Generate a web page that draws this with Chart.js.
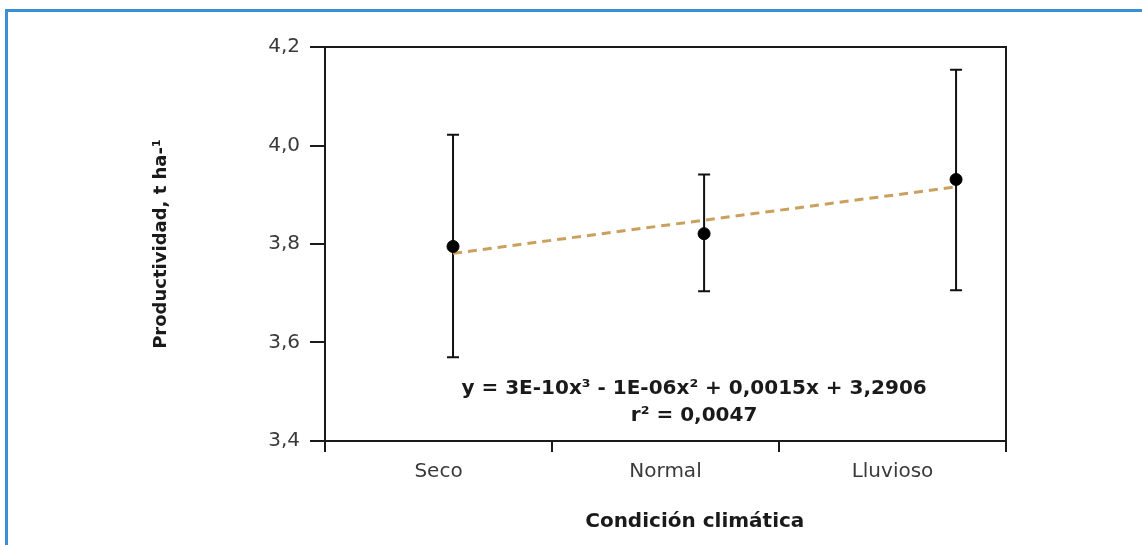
<!DOCTYPE html>
<html>
<head>
<meta charset="utf-8">
<script src="https://cdn.jsdelivr.net/npm/chart.js@4/dist/chart.umd.min.js"></script>
<style>
  html, body { margin: 0; padding: 0; background: #fff; }
  #wrap { position: relative; width: 1142px; height: 545px; overflow: hidden; }
  #frame { position: absolute; left: 5px; top: 9px; width: 1200px; height: 600px;
           border-top: 3px solid #3b8fd4; border-left: 3px solid #3b8fd4; box-sizing: border-box; }
  canvas { position: absolute; left: 0; top: 0; }
</style>
</head>
<body>
<div id="wrap">
  <div id="frame"></div>
  <canvas id="c" width="1142" height="545"></canvas>
</div>
<script>
// ---- data ----
const categories = ['Seco', 'Normal', 'Lluvioso'];
const pointX = [0.564, 1.670, 2.780];      // position along the (hidden) linear x axis
const meanY = [3.795, 3.821, 3.931];
const upperY = [4.022, 3.941, 4.154];
const lowerY = [3.570, 3.704, 3.706];
const trendX = [0.564, 2.780];
const trendY = [3.781, 3.916];
const yTicks = [3.4, 3.6, 3.8, 4.0, 4.2];
const equationLines = ['y = 3E-10x\u00B3 - 1E-06x\u00B2 + 0,0015x + 3,2906', 'r\u00B2 = 0,0047'];
const xTitle = 'Condici\u00F3n clim\u00E1tica';
const yTitle = 'Productividad, t ha-\u00B9';

const FONT = "'DejaVu Sans', Verdana, sans-serif";

const pointData = pointX.map((x, i) => ({ x, y: meanY[i], hi: upperY[i], lo: lowerY[i] }));
const trendData = trendX.map((x, i) => ({ x, y: trendY[i] }));

const extras = {
  id: 'extras',
  beforeDatasetsDraw(chart) {
    const { ctx, chartArea: a, scales } = chart;
    const xs = scales.x, ys = scales.y;
    ctx.save();
    // plot frame (top and right edges)
    ctx.strokeStyle = '#1a1a1a';
    ctx.lineWidth = 2;
    ctx.beginPath();
    ctx.moveTo(a.left, a.top);
    ctx.lineTo(a.right, a.top);
    ctx.lineTo(a.right, a.bottom);
    ctx.stroke();
    // error bars
    ctx.lineWidth = 2;
    ctx.strokeStyle = '#111';
    pointData.forEach(p => {
      const px = xs.getPixelForValue(p.x);
      const yt = ys.getPixelForValue(p.hi);
      const yb = ys.getPixelForValue(p.lo);
      ctx.beginPath();
      ctx.moveTo(px, yt); ctx.lineTo(px, yb);
      ctx.moveTo(px - 6, yt); ctx.lineTo(px + 6, yt);
      ctx.moveTo(px - 6, yb); ctx.lineTo(px + 6, yb);
      ctx.stroke();
    });
    ctx.restore();
  },
  afterDraw(chart) {
    const { ctx, chartArea: a } = chart;
    ctx.save();
    ctx.fillStyle = '#1a1a1a';
    ctx.textAlign = 'center';
    ctx.textBaseline = 'middle';
    ctx.font = 'bold 20px ' + FONT;
    const cx = a.left + (a.right - a.left) * 0.542;
    ctx.fillText(equationLines[0], cx, a.bottom - 52);
    ctx.fillText(equationLines[1], cx, a.bottom - 25);
    ctx.fillText(xTitle, a.left + (a.right - a.left) * 0.543, 522);
    ctx.restore();
  }
};

new Chart(document.getElementById('c'), {
  type: 'scatter',
  data: {
    datasets: [
      {
        type: 'line',
        data: trendData,
        borderColor: '#c9a05e',
        borderWidth: 3,
        borderDash: [9, 6],
        pointRadius: 0,
        fill: false,
        xAxisID: 'x',
        order: 2
      },
      {
        data: pointData,
        backgroundColor: '#000',
        borderColor: '#000',
        pointRadius: 6,
        pointHoverRadius: 6,
        xAxisID: 'x',
        order: 1
      }
    ]
  },
  options: {
    responsive: false,
    animation: false,
    events: [],
    layout: { padding: { left: 0, right: 136, top: 47, bottom: 0 } },
    plugins: { legend: { display: false }, tooltip: { enabled: false } },
    scales: {
      x: {
        type: 'linear',
        display: false,
        min: 0,
        max: 3
      },
      xc: {
        type: 'category',
        position: 'bottom',
        labels: categories,
        offset: true,
        border: { display: true, color: '#1a1a1a', width: 2 },
        grid: { offset: true, drawOnChartArea: false, drawTicks: true, tickLength: 11, color: '#1a1a1a', lineWidth: 2 },
        ticks: { color: '#3a3a3a', font: { family: FONT, size: 20 }, padding: 8 },
        afterFit(s) { s.height = 104; }
      },
      y: {
        type: 'linear',
        position: 'left',
        min: 3.4,
        max: 4.2,
        afterBuildTicks(s) { s.ticks = yTicks.map(v => ({ value: v })); },
        border: { display: true, color: '#1a1a1a', width: 2 },
        grid: { drawOnChartArea: false, drawTicks: true, tickLength: 15, color: '#1a1a1a', lineWidth: 2 },
        ticks: {
          color: '#3a3a3a',
          font: { family: FONT, size: 20 },
          padding: 10,
          callback: v => v.toFixed(1).replace('.', ',')
        },
        title: {
          display: true,
          text: yTitle,
          color: '#1a1a1a',
          font: { family: FONT, size: 18, weight: 'bold' },
          padding: { top: 151, bottom: 0 }
        },
        afterFit(s) { s.width = 325; }
      }
    }
  },
  plugins: [extras]
});
</script>
</body>
</html>
